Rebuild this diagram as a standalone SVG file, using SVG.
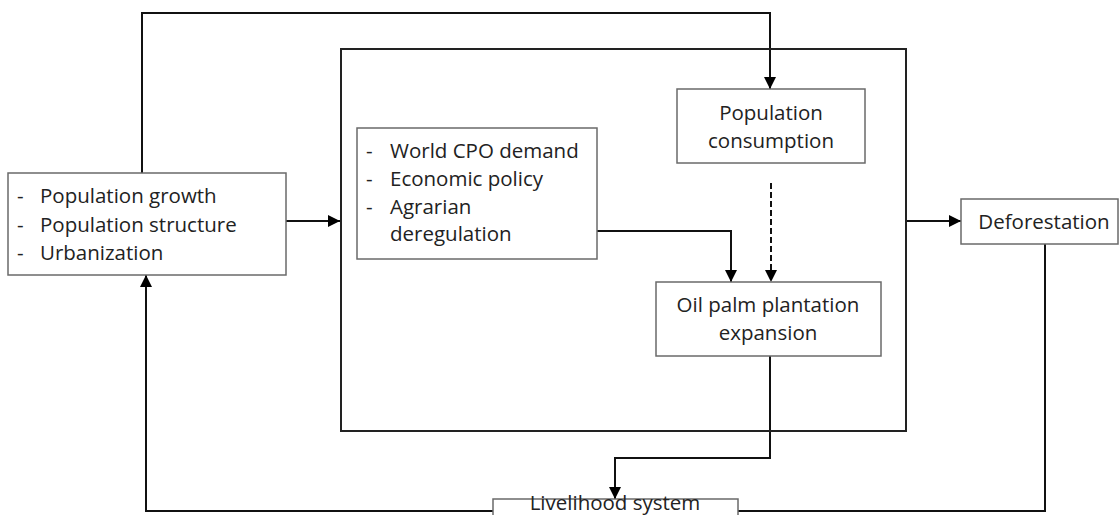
<svg xmlns="http://www.w3.org/2000/svg" width="1120" height="515" viewBox="0 0 1120 515">
<style>
text{font-family:"Open Sans","Noto Sans","DejaVu Sans",sans-serif;font-size:20.5px;fill:#222}
.box{fill:#fff;stroke:#6a6a6a;stroke-width:1.5}
.big{fill:none;stroke:#222;stroke-width:2}
.c{fill:none;stroke:#111;stroke-width:2}
.d{fill:none;stroke:#111;stroke-width:2;stroke-dasharray:6 3}
.m{text-anchor:middle}
</style>
<defs>
<marker id="ah" markerWidth="12" markerHeight="12" refX="11" refY="5.5" orient="auto" markerUnits="userSpaceOnUse" viewBox="0 0 11 11">
<path d="M0,0 L11,5.5 L0,11 Z" fill="#000"/>
</marker>
</defs>
<g id="connectors">
<polyline class="c" points="142,173 142,13 770,13 770,89" marker-end="url(#ah)"/>
<line class="c" x1="286" y1="221" x2="340" y2="221" marker-end="url(#ah)"/>
<line class="c" x1="907" y1="221" x2="961" y2="221" marker-end="url(#ah)"/>
<polyline class="c" points="597,231 731,231 731,282" marker-end="url(#ah)"/>
<line class="d" x1="771" y1="183" x2="771" y2="282" marker-end="url(#ah)"/>
<polyline class="c" points="770,356 770,458 615,458 615,499" marker-end="url(#ah)"/>
<polyline class="c" points="1045,244 1045,511 738,511"/>
<polyline class="c" points="493,511 146,511 146,275" marker-end="url(#ah)"/>
</g>
<g id="context">
<rect class="big" x="341" y="49" width="565" height="382"/>
</g>
<g id="drivers">
<rect class="box" x="8" y="173" width="278" height="102"/>
<text x="17" y="203">-</text><text x="40" y="203">Population growth</text>
<text x="17" y="232">-</text><text x="40" y="232">Population structure</text>
<text x="17" y="260">-</text><text x="40" y="260">Urbanization</text>
</g>
<g id="policy">
<rect class="box" x="357" y="128" width="240" height="131"/>
<text x="366" y="158">-</text><text x="390" y="158">World CPO demand</text>
<text x="366" y="186">-</text><text x="390" y="186">Economic policy</text>
<text x="366" y="214">-</text><text x="390" y="214">Agrarian</text>
<text x="390" y="241">deregulation</text>
</g>
<g id="consumption">
<rect class="box" x="677" y="89" width="188" height="74"/>
<text class="m" x="771" y="120">Population</text>
<text class="m" x="771" y="148">consumption</text>
</g>
<g id="oilpalm">
<rect class="box" x="656" y="282" width="225" height="74"/>
<text class="m" x="768" y="312">Oil palm plantation</text>
<text class="m" x="768" y="340">expansion</text>
</g>
<g id="deforestation">
<rect class="box" x="961" y="199" width="157" height="45"/>
<text class="m" x="1044" y="229">Deforestation</text>
</g>
<g id="livelihood">
<rect class="box" x="493" y="499" width="245" height="30"/>
<text class="m" x="615" y="510">Livelihood system</text>
</g>
</svg>
